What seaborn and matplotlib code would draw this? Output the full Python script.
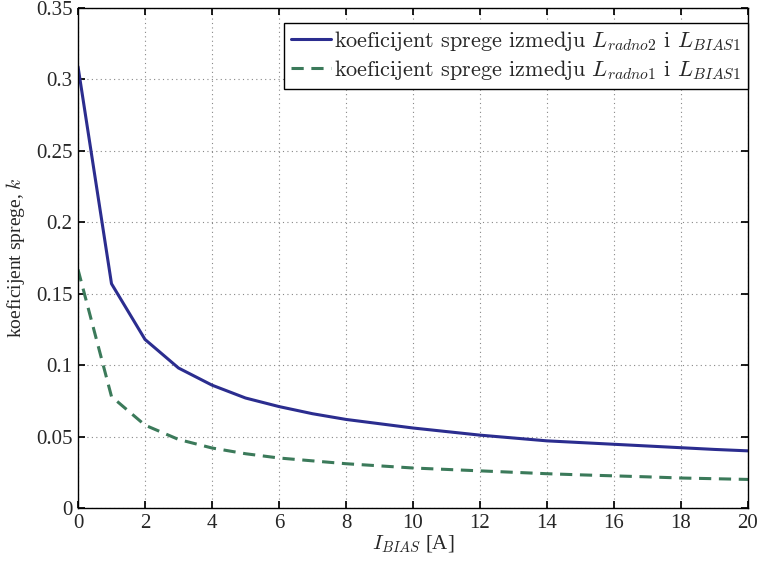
import matplotlib
matplotlib.use("Agg")
import matplotlib.pyplot as plt
import seaborn as sns
import pandas as pd

x_vals = list(range(0, 21))
k_radno2 = [0.309, 0.157, 0.118, 0.098, 0.086, 0.077, 0.071, 0.066, 0.062, 0.059,
            0.056, 0.0535, 0.051, 0.049, 0.047, 0.0458, 0.0446, 0.0434, 0.0422, 0.041, 0.040]
k_radno1 = [0.167, 0.078, 0.058, 0.048, 0.042, 0.038, 0.035, 0.033, 0.031, 0.0295,
            0.028, 0.027, 0.026, 0.025, 0.024, 0.0232, 0.0225, 0.0218, 0.021, 0.0205, 0.020]
labels = [r"koeficijent sprege izmedju $L_{radno2}$ i $L_{BIAS1}$",
          r"koeficijent sprege izmedju $L_{radno1}$ i $L_{BIAS1}$"]

df = pd.DataFrame({
    "x": x_vals * 2,
    "k": k_radno2 + k_radno1,
    "serija": [labels[0]] * len(x_vals) + [labels[1]] * len(x_vals),
})

sns.set_theme(style="white")
plt.rcParams["font.family"] = ["Liberation Serif", "DejaVu Serif"]
plt.rcParams["mathtext.fontset"] = "cm"

fig = plt.figure(figsize=(7.58, 5.62), dpi=100)
ax = fig.add_axes([78/758, 1 - 508/562, 670/758, 500/562])

sns.lineplot(data=df, x="x", y="k", hue="serija", style="serija",
             palette=["#2b2d8f", "#3b7a5a"],
             dashes=[(None, None), (4, 2.5)], linewidth=2.2, ax=ax)

ax.set_xlim(0, 20)
ax.set_ylim(0, 0.35)
ax.set_xticks(range(0, 21, 2))
ax.set_yticks([0, 0.05, 0.1, 0.15, 0.2, 0.25, 0.3, 0.35])
ax.set_yticklabels(["0", "0.05", "0.1", "0.15", "0.2", "0.25", "0.3", "0.35"])
ax.tick_params(axis="both", labelsize=15, direction="in", length=5, color="black",
               top=True, right=True, bottom=True, left=True, pad=4)
ax.grid(True, linestyle=(0, (1, 3)), color="#888888", linewidth=0.8)
for s in ax.spines.values():
    s.set_color("black")
    s.set_linewidth(1.0)

ax.set_xlabel(r"$I_{BIAS}$ [A]", fontsize=15, labelpad=1)
ax.set_ylabel(r"koeficijent sprege, $k$", fontsize=14, labelpad=6)

leg = ax.legend(loc="upper right", prop={"family": "cmr10", "size": 16},
                frameon=True, fancybox=False,
                edgecolor="black", framealpha=1, borderaxespad=0.0,
                bbox_to_anchor=(1.0, 0.97), handlelength=1.8, handletextpad=0.15,
                labelspacing=0.25, borderpad=0.3)
leg.get_frame().set_linewidth(1.0)
leg.set_title(None)

fig.savefig("out.png", dpi=100)
